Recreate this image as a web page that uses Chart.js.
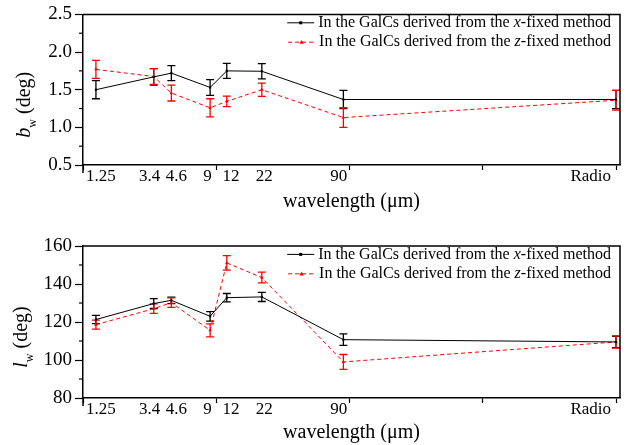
<!DOCTYPE html>
<html><head><meta charset="utf-8">
<script src="https://cdn.jsdelivr.net/npm/chart.js@4.4.1/dist/chart.umd.min.js"></script>
<style>
html,body{margin:0;padding:0;background:#fff;overflow:hidden}
canvas{display:block}
</style></head><body>
<canvas id="c1" width="628" height="222"></canvas>
<canvas id="c2" width="628" height="223"></canvas>
<script>
// ---- data ----
const wavelengthLabels = ['1.25', '3.4', '4.6', '9', '12', '22', '90', 'Radio'];
// x positions on the axis: log10(wavelength in micron), Radio placed at 4
const xPositions = [0.097, 0.531, 0.663, 0.954, 1.079, 1.342, 1.954, 4.0];
// where the tick labels sit along the axis
const labelPositions = [0.135, 0.50, 0.70, 0.935, 1.11, 1.36, 1.92, 3.81];
const majorXTicks = [0, 1, 2, 3, 4];

const bwX    = [1.50, 1.67, 1.72, 1.53, 1.75, 1.745, 1.37, 1.37];
const bwXErr = [0.12, 0.11, 0.10, 0.105, 0.10, 0.10, 0.12, 0.12];
const bwZ    = [1.77, 1.675, 1.455, 1.26, 1.345, 1.50, 1.13, 1.36];
const bwZErr = [0.12, 0.105, 0.105, 0.12, 0.07, 0.088, 0.13, 0.13];

const lwX    = [121.3, 129.7, 131.4, 123.0, 132.8, 133.2, 110.7, 109.5];
const lwXErr = [2.2, 2.6, 1.7, 2.5, 2.2, 2.4, 3.0, 3.0];
const lwZ    = [118.6, 127.0, 130.2, 115.6, 151.1, 143.4, 99.0, 109.5];
const lwZErr = [2.4, 2.5, 2.5, 3.4, 3.8, 2.8, 3.9, 3.2];

const legendTexts = [
  ['In the GalCs derived from the ', 'x', '-fixed method'],
  ['In the GalCs derived from the ', 'z', '-fixed method']
];
const xTitle = 'wavelength (\u03bcm)';

const SERIF = '"Liberation Serif", "Times New Roman", serif';
const BLACK = '#000000';
const RED = '#ff0000';

function makeDecor(cfg) {
  return {
    id: 'decor',
    beforeDatasetsDraw(chart) {
      const ctx = chart.ctx, xs = chart.scales.x, ys = chart.scales.y;
      ctx.save();
      ctx.lineWidth = 1.3;
      cfg.series.forEach(s => {
        ctx.strokeStyle = s.color;
        s.vals.forEach((v, j) => {
          const x = xs.getPixelForValue(xPositions[j]);
          const yt = ys.getPixelForValue(v + s.errs[j]);
          const yb = ys.getPixelForValue(v - s.errs[j]);
          ctx.beginPath();
          ctx.moveTo(x, yt); ctx.lineTo(x, yb);
          ctx.moveTo(x - 4, yt); ctx.lineTo(x + 4, yt);
          ctx.moveTo(x - 4, yb); ctx.lineTo(x + 4, yb);
          ctx.stroke();
        });
      });
      ctx.restore();
    },
    afterDraw(chart) {
      const ctx = chart.ctx, a = chart.chartArea, ys = chart.scales.y;
      ctx.save();
      // frame top / right
      ctx.strokeStyle = BLACK; ctx.lineWidth = 1.5;
      ctx.beginPath();
      ctx.moveTo(a.left, a.top); ctx.lineTo(a.right, a.top); ctx.lineTo(a.right, a.bottom);
      ctx.stroke();
      // y axis extends below x axis
      ctx.beginPath(); ctx.moveTo(a.left, a.bottom); ctx.lineTo(a.left, a.bottom + 8); ctx.stroke();
      // minor y ticks
      ctx.lineWidth = 1.2;
      for (let v = cfg.yMin; v <= cfg.yMax + 1e-9; v += cfg.minor) {
        const r = v / cfg.major;
        if (Math.abs(r - Math.round(r)) < 1e-6) continue;
        const y = ys.getPixelForValue(v);
        ctx.beginPath(); ctx.moveTo(a.left - 4, y); ctx.lineTo(a.left, y); ctx.stroke();
      }
      // x title
      ctx.fillStyle = BLACK;
      ctx.font = '20px ' + SERIF;
      ctx.textAlign = 'center'; ctx.textBaseline = 'alphabetic';
      ctx.fillText(xTitle, (a.left + a.right) / 2, a.bottom + cfg.xTitleDy);
      // y title (rotated) : italic main letter, subscript w, then (deg)
      const mainFont = 'italic 20px ' + SERIF, subFont = '12px ' + SERIF, restFont = '20px ' + SERIF;
      ctx.font = mainFont; const w1 = ctx.measureText(cfg.yMain).width;
      ctx.font = subFont; const w2 = ctx.measureText('w').width;
      ctx.font = restFont; const w3 = ctx.measureText(cfg.yRest).width;
      const total = w1 + w2 + w3;
      ctx.translate(cfg.yTitleX, (a.top + a.bottom) / 2 + 15);
      ctx.rotate(-Math.PI / 2);
      ctx.textAlign = 'left';
      let px = -total / 2;
      ctx.font = mainFont; ctx.fillText(cfg.yMain, px, 0); px += w1;
      ctx.font = subFont; ctx.fillText('w', px, 6); px += w2;
      ctx.font = restFont; ctx.fillText(cfg.yRest, px, 0);
      ctx.setTransform(1, 0, 0, 1, 0, 0);
      // legend (right-aligned inside the plot box)
      const rows = [a.top + 8.4, a.top + 27.8];
      const normal = '16px ' + SERIF, ital = 'italic 16px ' + SERIF;
      legendTexts.forEach((parts, i) => {
        const y = rows[i];
        let tw = 0;
        parts.forEach((p, k) => { ctx.font = k === 1 ? ital : normal; tw += ctx.measureText(p).width; });
        const textStart = a.right - 9 - tw;
        const sx1 = textStart - 4, sx0 = sx1 - 27;
        const col = i === 0 ? BLACK : RED;
        ctx.strokeStyle = col; ctx.fillStyle = col; ctx.lineWidth = 1;
        ctx.setLineDash(i === 0 ? [] : [4, 3]);
        ctx.beginPath(); ctx.moveTo(sx0, y); ctx.lineTo(sx1, y); ctx.stroke();
        ctx.setLineDash([]);
        const mx = (sx0 + sx1) / 2;
        if (i === 0) { ctx.fillRect(mx - 1.5, y - 1.5, 3, 3); }
        else { ctx.beginPath(); ctx.moveTo(mx, y - 2.2); ctx.lineTo(mx + 2.2, y + 1.6); ctx.lineTo(mx - 2.2, y + 1.6); ctx.closePath(); ctx.fill(); }
        ctx.fillStyle = BLACK; ctx.textBaseline = 'middle'; ctx.textAlign = 'left';
        let tx = textStart;
        parts.forEach((p, k) => {
          ctx.font = k === 1 ? ital : normal;
          ctx.fillText(p, tx, y);
          tx += ctx.measureText(p).width;
        });
      });
      ctx.restore();
    }
  };
}

function makeChart(id, cfg) {
  const datasets = cfg.series.map((s, i) => ({
    label: 'series' + i,
    data: xPositions.map((x, j) => ({ x: x, y: s.vals[j] })),
    borderColor: s.color,
    backgroundColor: s.color,
    borderWidth: 1,
    borderDash: i === 0 ? [] : [4, 3],
    pointStyle: i === 0 ? 'rect' : 'triangle',
    pointRadius: i === 0 ? 1.5 : 2,
    pointBorderWidth: 0,
    tension: 0,
    clip: false
  }));
  return new Chart(document.getElementById(id), {
    type: 'line',
    data: { datasets },
    options: {
      responsive: false,
      animation: false,
      events: [],
      layout: { padding: { left: 0, right: 8, top: cfg.padTop, bottom: 0 } },
      plugins: { legend: { display: false }, tooltip: { enabled: false } },
      scales: {
        x: {
          type: 'linear', min: 0, max: 4.03,
          afterBuildTicks(axis) {
            const t = majorXTicks.map(v => ({ value: v, txt: '' }))
              .concat(labelPositions.map((v, i) => ({ value: v, txt: wavelengthLabels[i] })));
            t.sort((p, q) => p.value - q.value);
            axis.ticks = t;
          },
          afterFit(scale) { scale.height = cfg.xAxisH; },
          ticks: {
            autoSkip: false, maxRotation: 0, minRotation: 0,
            padding: -4,
            color: BLACK,
            font: { family: SERIF, size: 17 },
            callback: (v, i, ticks) => ticks[i].txt
          },
          grid: {
            drawOnChartArea: false, drawTicks: true, tickLength: 5, tickWidth: 1.2,
            tickColor: c => (c.tick && c.tick.txt) ? 'rgba(0,0,0,0)' : BLACK
          },
          border: { display: true, color: BLACK, width: 1.5 }
        },
        y: {
          min: cfg.yMin, max: cfg.yMax,
          afterBuildTicks(axis) {
            const t = [];
            for (let v = cfg.yMin; v <= cfg.yMax + 1e-9; v += cfg.major) t.push({ value: +v.toFixed(4) });
            axis.ticks = t;
          },
          afterFit(scale) { scale.width = 83; },
          ticks: {
            padding: 3, color: BLACK,
            font: { family: SERIF, size: 19 },
            callback: v => cfg.fmt(v)
          },
          grid: { drawOnChartArea: false, drawTicks: true, tickLength: 8, tickWidth: 1.2, tickColor: BLACK },
          border: { display: true, color: BLACK, width: 1.5 }
        }
      }
    },
    plugins: [makeDecor(cfg)]
  });
}

makeChart('c1', {
  series: [{ vals: bwX, errs: bwXErr, color: BLACK }, { vals: bwZ, errs: bwZErr, color: RED }],
  yMin: 0.5, yMax: 2.5, major: 0.5, minor: 0.25, fmt: v => v.toFixed(1),
  padTop: 13, xAxisH: 57, xTitleDy: 42, yTitleX: 30, yMain: 'b', yRest: ' (deg)'
});
makeChart('c2', {
  series: [{ vals: lwX, errs: lwXErr, color: BLACK }, { vals: lwZ, errs: lwZErr, color: RED }],
  yMin: 80, yMax: 160, major: 20, minor: 10, fmt: v => String(Math.round(v)),
  padTop: 24, xAxisH: 47, xTitleDy: 40, yTitleX: 27, yMain: 'l', yRest: ' (deg)'
});
</script>
</body></html>
